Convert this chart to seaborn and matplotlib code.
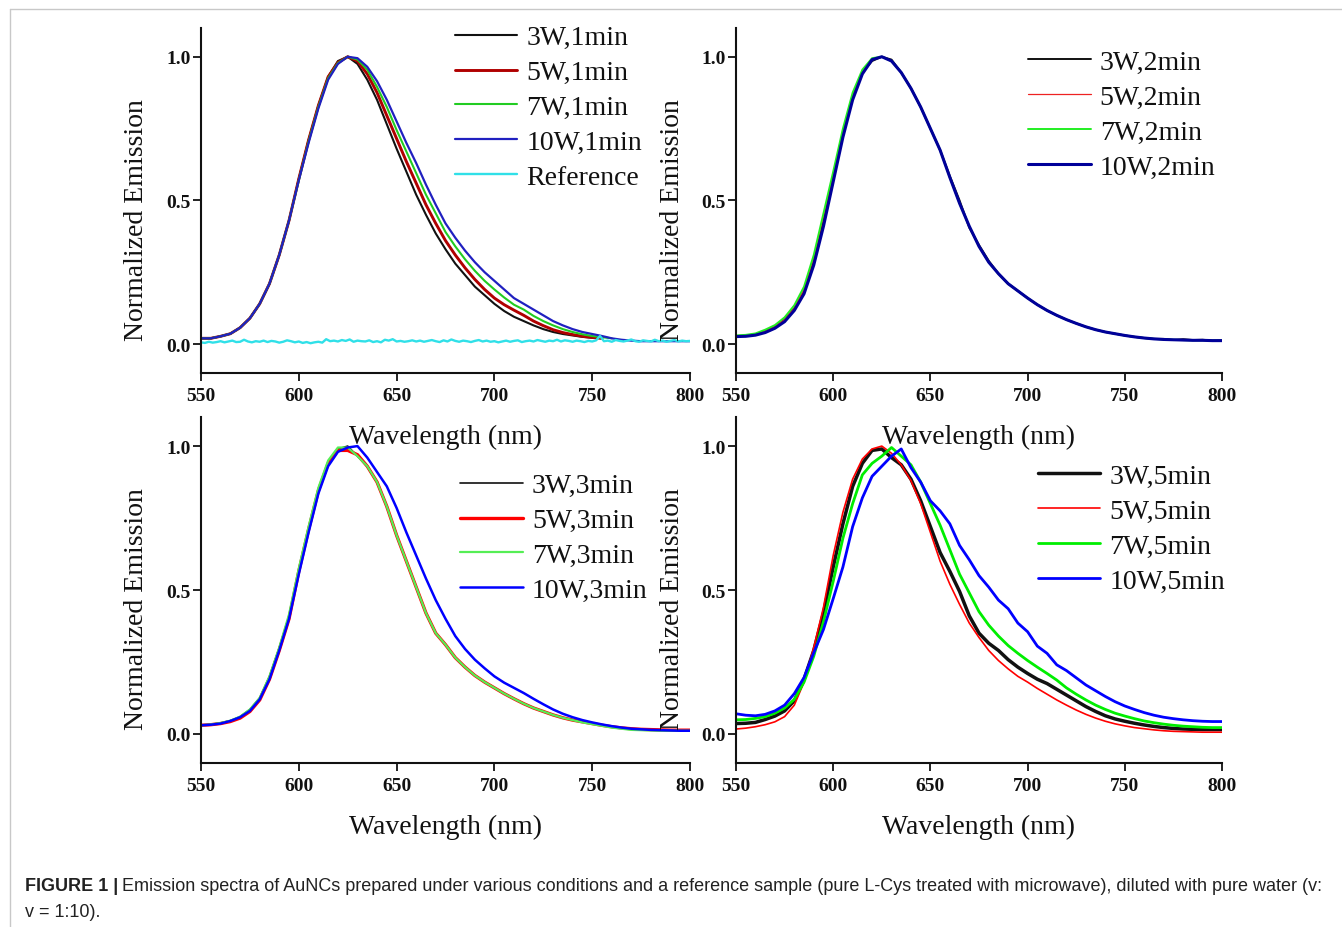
import numpy as np
import pandas as pd
import matplotlib
matplotlib.use("Agg")
import matplotlib.pyplot as plt
from matplotlib.lines import Line2D
import seaborn as sns

WL = list(range(550, 805, 5))
NA = np.nan

# ---- 1 min ----
W3_1 = [.02, .02, .027, .036, .057, .09, .14, .21, .31, .43,
        .575, .71, .83, .93, .985, 1.0, .975, .92, .85, .765,
        .68, .60, .52, .45, .385, .33, .28, .24, .20, .17,
        .14, .115, .095, .08, .065, .052, .042, .035, .03, .025,
        .022, .02, NA, NA, NA, NA, NA, NA, NA, NA, NA]
W5_1 = [.02, .02, .027, .036, .057, .09, .14, .21, .31, .43,
        .575, .71, .83, .93, .98, 1.0, .985, .94, .875, .795,
        .715, .635, .56, .485, .42, .36, .31, .265, .225, .19,
        .16, .137, .118, .10, .08, .064, .05, .04, .033, .027,
        .023, .02, NA, NA, NA, NA, NA, NA, NA, NA, NA]
W7_1 = [.02, .02, .027, .036, .057, .09, .14, .21, .31, .43,
        .57, .705, .825, .925, .978, 1.0, .99, .955, .895, .825,
        .745, .67, .595, .52, .455, .39, .34, .295, .255, .22,
        .19, .162, .137, .12, .098, .08, .065, .052, .042, .034,
        .028, .024, .02, NA, NA, NA, NA, NA, NA, NA, NA]
W10_1 = [.02, .02, .027, .036, .057, .09, .14, .21, .31, .43,
         .57, .70, .82, .92, .975, 1.0, .995, .965, .915, .85,
         .775, .70, .63, .555, .485, .42, .37, .325, .285, .25,
         .22, .19, .16, .14, .12, .10, .08, .065, .052, .042,
         .035, .028, .02, .015, .012, .01, .01, .01, .01, .01, .01]

# reference sample (2 nm steps)
REF = [.006, .004, .008, .005, .007, .010, .006, .009, .012, .007, .008, .015, .009, .006,
       .010, .008, .012, .007, .011, .009, .005, .008, .013, .010, .006, .009, .004, .007,
       .003, .006, .008, .005, .017, .010, .012, .009, .014, .011, .016, .008, .012, .010,
       .009, .013, .007, .010, .006, .015, .012, .017, .009, .011, .008, .010, .013, .009,
       .012, .008, .011, .014, .010, .007, .013, .009, .016, .011, .008, .012, .010, .007,
       .011, .014, .009, .012, .008, .010, .006, .009, .012, .008, .011, .013, .007, .010,
       .012, .009, .014, .011, .008, .012, .010, .015, .009, .013, .011, .008, .012, .010,
       .007, .011, .009, .013, .028, .010, .012, .008, .014, .011, .009, .012, .016, .010,
       .008, .013, .011, .009, .015, .010, .012, .008, .011, .014, .009, .012, .010, .011]
WL_REF = list(range(550, 802, 2))

# ---- 2 min ----
W3_2 = [.028, .03, .034, .045, .06, .085, .125, .185, .29, .43,
        .58, .73, .86, .945, .985, 1.0, .99, .945, .89, .825,
        .75, .675, .585, .50, .405, .345, .29, .245, .21, .185,
        .16, .137, .117, .10, .085, .072, .06, .05, .042, .036,
        .03, .025, .021, .018, .018, .014, .017, .014, .015, .012, .013]
W5_2 = [.028, .03, .034, .045, .06, .085, .125, .19, .30, .445,
        .59, .735, .86, .945, .99, 1.0, .985, .945, .89, .825,
        .75, .675, .58, .49, .41, .34, .285, .245, .21, .185,
        .16, .137, .117, .10, .085, .072, .06, .05, .042, .036,
        .03, .025, .021, .018, .016, .015, .014, .013, .013, .012, .012]
W7_2 = [.03, .032, .037, .05, .066, .093, .135, .20, .31, .455,
        .60, .75, .875, .955, .995, 1.0, .985, .945, .89, .825,
        .75, .675, .58, .49, .41, .34, .285, .245, .21, .185,
        .16, .137, .117, .10, .085, .072, .06, .05, .042, .036,
        .03, .025, .021, .018, .016, .015, .014, .013, .013, .012, .012]
W10_2 = [.026, .027, .031, .04, .055, .078, .117, .175, .275, .41,
         .565, .72, .85, .94, .99, 1.0, .985, .945, .89, .825,
         .75, .675, .58, .49, .41, .34, .285, .245, .21, .185,
         .16, .137, .117, .10, .085, .072, .06, .05, .042, .036,
         .03, .025, .021, .018, .016, .015, .014, .013, .013, .012, .012]

# ---- 3 min ----
W3_3 = [.03, .033, .038, .046, .06, .085, .125, .20, .30, .41,
        .57, .71, .845, .94, .99, 1.0, .965, .93, .875, .79,
        .69, .60, .51, .42, .35, .31, .265, .232, .203, .18,
        .16, .14, .122, .105, .09, .078, .066, .056, .048, .042,
        .036, .03, .025, .021, .018, .016, .015, .014, .013, .013, .013]
W5_3 = [.03, .032, .036, .043, .055, .078, .118, .19, .29, .40,
        .565, .71, .845, .94, .985, .985, .97, .93, .875, .79,
        .69, .60, .51, .42, .35, .31, .265, .232, .203, .18,
        .16, .14, .122, .105, .09, .078, .066, .056, .048, .042,
        .036, .03, .025, .021, .018, .016, .015, .014, .013, .013, .013]
W7_3 = [.03, .033, .038, .046, .06, .085, .125, .20, .30, .415,
        .575, .72, .855, .95, .995, .995, .965, .93, .875, .79,
        .69, .60, .51, .42, .35, .31, .265, .232, .203, .18,
        .16, .14, .122, .105, .09, .078, .066, .056, .048, .04,
        .034, .028, .022, .018, .014, .013, .012, .011, .011, .011, .011]
W10_3 = [.03, .032, .036, .045, .058, .08, .12, .19, .29, .40,
         .555, .70, .835, .93, .98, .995, 1.0, .96, .91, .86,
         .785, .70, .62, .54, .465, .40, .34, .295, .258, .228,
         .20, .178, .16, .142, .122, .103, .085, .07, .058, .048,
         .04, .033, .027, .022, .018, .016, .014, .013, .012, .011, .011]

# ---- 5 min ----
W3_5 = [.036, .037, .04, .05, .062, .08, .115, .19, .29, .42,
        .58, .73, .86, .94, .985, .99, .96, .935, .885, .81,
        .72, .63, .565, .495, .41, .35, .315, .29, .258, .232,
        .21, .19, .175, .155, .135, .115, .095, .078, .063, .052,
        .044, .037, .031, .026, .022, .019, .017, .016, .015, .015, .015]
W5_5 = [.017, .02, .025, .032, .042, .06, .10, .18, .30, .44,
        .62, .77, .885, .955, .99, 1.0, .975, .935, .88, .80,
        .70, .60, .52, .45, .385, .335, .29, .255, .226, .20,
        .18, .158, .138, .118, .10, .083, .068, .055, .044, .035,
        .028, .022, .018, .014, .011, .009, .008, .007, .006, .006, .006]
W7_5 = [.049, .05, .054, .06, .072, .09, .12, .18, .27, .39,
        .53, .68, .80, .90, .94, .965, .995, .965, .935, .875,
        .80, .725, .64, .555, .49, .425, .378, .34, .307, .28,
        .255, .232, .21, .187, .16, .138, .118, .10, .085, .072,
        .062, .053, .045, .039, .034, .03, .027, .025, .023, .022, .022]
W10_5 = [.07, .065, .063, .068, .08, .10, .14, .196, .282, .363,
         .47, .58, .72, .82, .895, .93, .965, .99, .925, .875,
         .81, .775, .73, .655, .605, .55, .51, .465, .435, .385,
         .355, .305, .28, .24, .22, .195, .17, .15, .13, .112,
         .097, .085, .074, .065, .058, .053, .049, .046, .044, .043, .043]

PANELS = [
    (["3W,1min", "5W,1min", "7W,1min", "10W,1min"], [W3_1, W5_1, W7_1, W10_1]),
    (["3W,2min", "5W,2min", "7W,2min", "10W,2min"], [W3_2, W5_2, W7_2, W10_2]),
    (["3W,3min", "5W,3min", "7W,3min", "10W,3min"], [W3_3, W5_3, W7_3, W10_3]),
    (["3W,5min", "5W,5min", "7W,5min", "10W,5min"], [W3_5, W5_5, W7_5, W10_5]),
]
STYLES = [
    [("#111111", 1.5), ("#b00000", 2.1), ("#22cc22", 1.5), ("#2020c0", 1.6)],
    [("#111111", 1.4), ("#ee2222", 0.9), ("#22ee22", 1.4), ("#000099", 2.2)],
    [("#111111", 1.2), ("#ff0000", 2.4), ("#55ee55", 1.6), ("#0000ff", 1.8)],
    [("#111111", 2.5), ("#ff0000", 1.2), ("#00ee00", 2.0), ("#0000ff", 2.0)],
]
# axes boxes in pixels: x0, x1, y_top, y_bottom
BOXES = [(201, 690, 29, 373.8), (736, 1222, 29, 373.8),
         (201, 690, 418.3, 763.7), (736, 1222, 418.3, 763.7)]
LEG_POS = [(0.519, 1.009), (0.601, 0.937), (0.53, 0.839), (0.621, 0.8655)]

W, H = 1342, 928
sns.set_theme(style="ticks")
plt.rcParams["font.family"] = ["Liberation Serif", "DejaVu Serif"]

fig = plt.figure(figsize=(W / 100, H / 100), dpi=100)
fig.patch.set_facecolor("white")

for i, (labels, series) in enumerate(PANELS):
    x0, x1, yt, yb = BOXES[i]
    ax = fig.add_axes([x0 / W, 1 - yb / H, (x1 - x0) / W, (yb - yt) / H])
    ax.set_facecolor("none")
    for lab, vals, (col, lw) in zip(labels, series, STYLES[i]):
        sns.lineplot(x=WL, y=vals, ax=ax, color=col, lw=lw, label=lab, estimator=None)
    if i == 0:
        sns.lineplot(x=WL_REF, y=REF, ax=ax, color="#30e0e8", lw=1.7, label="Reference", estimator=None)
    ax.set_xlim(550, 800)
    ax.set_ylim(-0.1, 1.1)
    ax.set_xticks([550, 600, 650, 700, 750, 800])
    ax.set_yticks([0.0, 0.5, 1.0])
    ax.set_yticklabels(["0.0", "0.5", "1.0"])
    ax.tick_params(direction="out", length=5.5, width=1.3, labelsize=14, colors="#111111")
    ax.tick_params(axis="x", pad=5)
    ax.tick_params(axis="y", pad=2)
    plt.setp(ax.get_xticklabels() + ax.get_yticklabels(), fontweight="bold")
    for s in ["top", "right"]:
        ax.spines[s].set_visible(False)
    for s in ["left", "bottom"]:
        ax.spines[s].set_linewidth(1.5)
        ax.spines[s].set_color("#111111")
    ax.set_xlabel("Wavelength (nm)", fontsize=20, color="#111111")
    ax.set_ylabel("Normalized Emission", fontsize=20, color="#111111")
    ax.xaxis.set_label_coords(0.5, -0.185)
    ax.xaxis.label.set_verticalalignment("center")
    ax.yaxis.set_label_coords(-0.131, 0.447)
    ax.yaxis.label.set_verticalalignment("center")
    leg = ax.legend(loc="upper left", bbox_to_anchor=LEG_POS[i], frameon=False, fontsize=20,
                    handlelength=2.25, handletextpad=0.33, labelspacing=0.34,
                    borderpad=0, borderaxespad=0)
    for t in leg.get_texts():
        t.set_color("#111111")

# figure frame and caption
fig.add_artist(Line2D([10 / W, 10 / W], [0, 1 - 10 / H], color="#c8c8c8", lw=1))
fig.add_artist(Line2D([10 / W, 1], [1 - 10 / H, 1 - 10 / H], color="#c8c8c8", lw=1))
cap_font = ["Liberation Sans", "DejaVu Sans"]
fig.text(25 / W, 1 - 887 / H, "FIGURE 1 |", fontsize=13, fontweight="bold",
         family=cap_font, va="center", color="#222222")
fig.text(122 / W, 1 - 887 / H,
         "Emission spectra of AuNCs prepared under various conditions and a reference sample "
         "(pure L-Cys treated with microwave), diluted with pure water (v:",
         fontsize=13, family=cap_font, va="center", color="#222222")
fig.text(25 / W, 1 - 913 / H, "v = 1:10).", fontsize=13, family=cap_font,
         va="center", color="#222222")

fig.savefig("out.png", dpi=100)
